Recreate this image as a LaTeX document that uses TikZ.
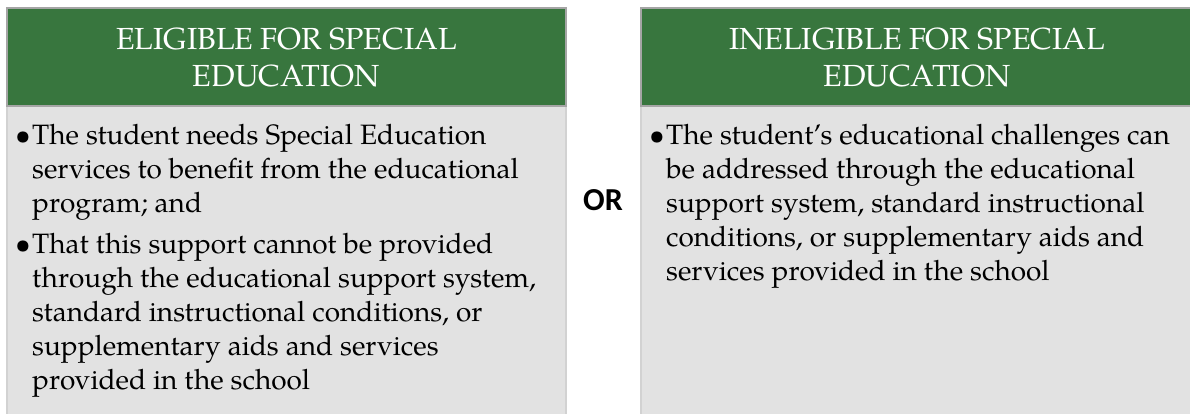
\documentclass[tikz,border=0pt]{standalone}
\usepackage{fontspec}
\setmainfont{TeX Gyre Pagella}
\newfontfamily\orfont{Carlito}
\definecolor{hdrgreen}{RGB}{56,118,62}
\definecolor{bodygray}{RGB}{226,226,226}
\definecolor{hdrborder}{RGB}{165,165,165}
\definecolor{bodyborder}{RGB}{210,210,210}
\newcommand{\bulletmark}{\leavevmode\llap{\textbullet\kern1.5pt}}
\begin{document}
\begin{tikzpicture}[x=1pt,y=-1pt,
  hdr/.style={fill=hdrgreen,draw=hdrborder,line width=2.5pt},
  bodybox/.style={fill=bodygray,draw=bodyborder,line width=1.5pt},
  hdrtext/.style={text=white,align=center,inner sep=0pt,font=\fontsize{30.5}{37}\selectfont},
  bodytext/.style={anchor=base west,inner sep=0pt,text=black},
  ortext/.style={inner sep=0pt,font=\orfont\bfseries\fontsize{32}{36}\selectfont}]
\useasboundingbox (0,0) rectangle (1190,413);
% left box
\draw[bodybox] (7,106) rectangle (566,420);
\draw[hdr] (7,8) rectangle (566,106);
% right box
\draw[bodybox] (641,106) rectangle (1200,420);
\draw[hdr] (641,8) rectangle (1200,106);
\node[hdrtext] (lh) at (286.5,57) {ELIGIBLE FOR SPECIAL\\EDUCATION};
\node[hdrtext] (rh) at (917,57) {INELIGIBLE FOR SPECIAL\\EDUCATION};
\node[bodytext] (lb) at (32,144) {\parbox[t]{530pt}{\fontsize{28}{34}\selectfont\raggedright
\bulletmark The student needs Special Education\\
services to benefit from the educational\\
program; and\\[7pt]
\bulletmark That this support cannot be provided\\
through the educational support system,\\
standard instructional conditions, or\\
supplementary aids and services\\
provided in the school}};
\node[bodytext] (rb) at (666,144) {\parbox[t]{520pt}{\fontsize{28}{34}\selectfont\raggedright
\bulletmark The student’s educational challenges can\\
be addressed through the educational\\
support system, standard instructional\\
conditions, or supplementary aids and\\
services provided in the school}};
\node[ortext] (or) at (603,200) {OR};
\end{tikzpicture}
\end{document}
